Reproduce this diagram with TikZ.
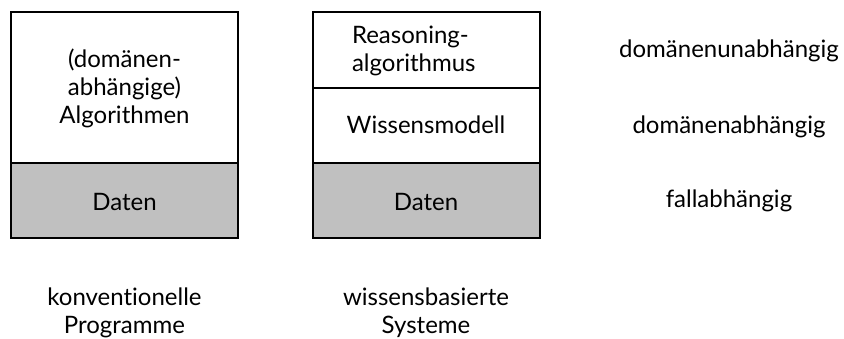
\documentclass[tikz,border=0pt]{standalone}
\usepackage{fontspec}
\setmainfont{Lato}[Ligatures=NoCommon]
\definecolor{datagray}{RGB}{192,192,192}
\begin{document}
\begin{tikzpicture}[x=1pt,y=-1pt,
  cell/.style={draw=black, line width=1.6pt, anchor=north west, inner sep=0pt, outer sep=0pt, minimum width=227pt},
  datacell/.style={cell, fill=datagray},
  lbl/.style={font=\fontsize{24}{28}\selectfont, inner sep=0pt, outer sep=0pt, anchor=base}]
\useasboundingbox (0,0) rectangle (844,339);
% left column
\node[cell, minimum height=151pt] (algo) at (11,12) {};
\node[datacell, minimum height=75pt] (daten1) at (11,163) {};
% right column
\node[cell, minimum height=76pt] (reas) at (313,12) {};
\node[cell, minimum height=75pt] (wiss) at (313,88) {};
\node[datacell, minimum height=75pt] (daten2) at (313,163) {};
% texts in boxes (base = last line)
\node[lbl, align=center] (algotxt) at (124.5,123.5) {(domänen-\\abhängige)\\Algorithmen};
\node[lbl, align=left, anchor=base west] (reastxt) at (352,72) {Reasoning-\\algorithmus};
\node[lbl] (wisstxt) at (426,134) {Wissensmodell};
\node[lbl] (daten1txt) at (124.5,211) {Daten};
\node[lbl] (daten2txt) at (426,211) {Daten};
% right labels
\node[lbl] (unab) at (729,58) {domänenunabhängig};
\node[lbl] (abh) at (729,134) {domänenabhängig};
\node[lbl] (fall) at (729,208) {fallabhängig};
% bottom labels
\node[lbl, align=center] (konv) at (124.5,333.5) {konventionelle\\Programme};
\node[lbl, align=center] (wbs) at (426,333.5) {wissensbasierte\\Systeme};
\end{tikzpicture}
\end{document}
